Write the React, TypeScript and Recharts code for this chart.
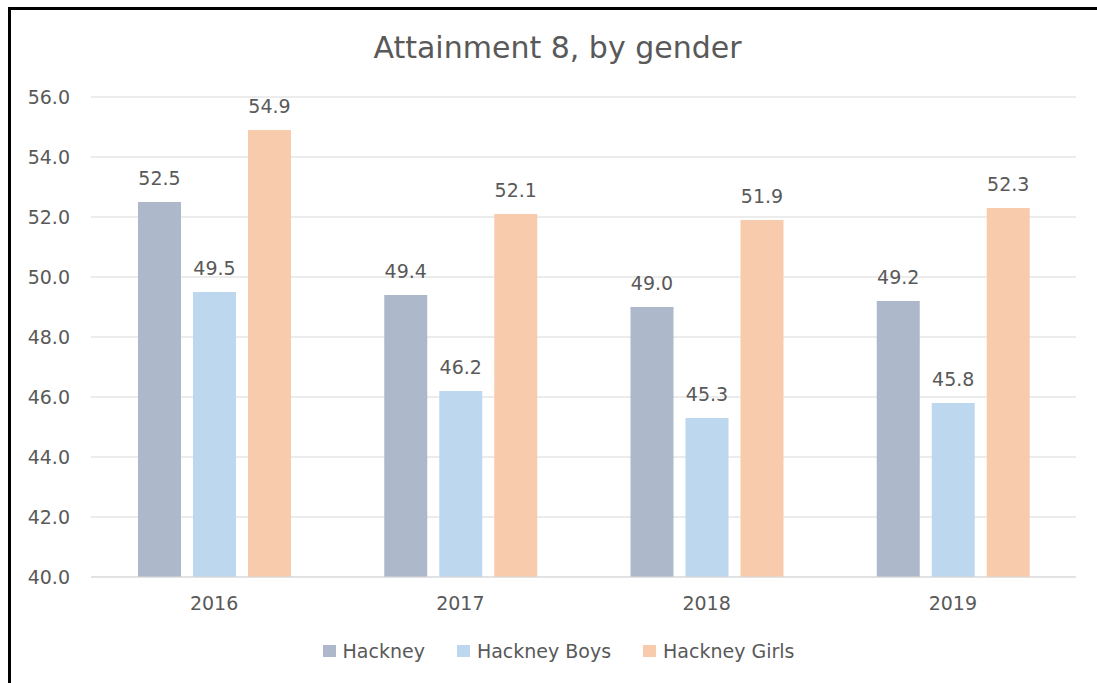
import {
  BarChart,
  Bar,
  XAxis,
  YAxis,
  CartesianGrid,
  Legend,
  LabelList,
} from "recharts";

const years = ["2016", "2017", "2018", "2019"];
const hackney = [52.5, 49.4, 49.0, 49.2];
const hackneyBoys = [49.5, 46.2, 45.3, 45.8];
const hackneyGirls = [54.9, 52.1, 51.9, 52.3];
const yTicks = [40, 42, 44, 46, 48, 50, 52, 54, 56];

const data = years.map((year, i) => ({
  year,
  hackney: hackney[i],
  boys: hackneyBoys[i],
  girls: hackneyGirls[i],
}));

const textColor = "#595959";
const font = "'DejaVu Sans', sans-serif";
const fmt = (v: number) => v.toFixed(1);

function LegendContent(props: any) {
  const payload = props.payload || [];
  return (
    <div
      style={{
        display: "flex",
        justifyContent: "center",
        alignItems: "center",
        gap: 32,
        fontFamily: font,
        fontSize: 19,
        color: textColor,
      }}
    >
      {payload.map((p: any) => (
        <div key={p.value} style={{ display: "flex", alignItems: "center" }}>
          <span
            style={{
              width: 13,
              height: 12,
              background: p.color,
              marginRight: 7,
              display: "inline-block",
            }}
          />
          <span>{p.value}</span>
        </div>
      ))}
    </div>
  );
}

export default function App() {
  const labelStyle = { fill: textColor, fontSize: 19, fontFamily: font };
  return (
    <div
      style={{
        position: "absolute",
        left: 0,
        top: 0,
        width: 1097,
        height: 683,
        overflow: "hidden",
        background: "#fff",
        fontFamily: font,
      }}
    >
      <div
        style={{
          position: "absolute",
          left: 8,
          top: 7,
          width: 1200,
          height: 800,
          border: "3px solid #000",
        }}
      />
      <div
        style={{
          position: "absolute",
          top: 33,
          left: 0,
          width: 1115,
          textAlign: "center",
          fontSize: 30,
          color: textColor,
          lineHeight: "30px",
          whiteSpace: "nowrap",
        }}
      >
        Attainment 8, by gender
      </div>
      <div style={{ position: "absolute", left: 0, top: 0 }}>
        <BarChart
          width={1097}
          height={683}
          data={data}
          margin={{ top: 97, right: 21, bottom: 56, left: 31 }}
          barGap={12}
          barSize={43}
        >
          <CartesianGrid vertical={false} stroke="#d9d9d9" />
          <XAxis
            dataKey="year"
            axisLine={{ stroke: "#d9d9d9" }}
            tickLine={false}
            tick={labelStyle}
            tickMargin={14}
            height={50}
          />
          <YAxis
            domain={[40, 56]}
            ticks={yTicks}
            tickFormatter={fmt}
            axisLine={false}
            tickLine={false}
            tickSize={0}
            tickMargin={21}
            width={60}
            tick={labelStyle}
          />
          <Legend
            verticalAlign="middle"
            align="center"
            content={<LegendContent />}
            wrapperStyle={{ top: 640, left: 0, width: 1117 }}
          />
          <Bar dataKey="hackney" name="Hackney" fill="#ADB9CA" isAnimationActive={false}>
            <LabelList
              dataKey="hackney"
              position="top"
              offset={17}
              formatter={(v: any) => fmt(Number(v))}
              style={labelStyle}
            />
          </Bar>
          <Bar dataKey="boys" name="Hackney Boys" fill="#BDD7EE" isAnimationActive={false}>
            <LabelList
              dataKey="boys"
              position="top"
              offset={17}
              formatter={(v: any) => fmt(Number(v))}
              style={labelStyle}
            />
          </Bar>
          <Bar dataKey="girls" name="Hackney Girls" fill="#F8CBAD" isAnimationActive={false}>
            <LabelList
              dataKey="girls"
              position="top"
              offset={17}
              formatter={(v: any) => fmt(Number(v))}
              style={labelStyle}
            />
          </Bar>
        </BarChart>
      </div>
    </div>
  );
}
